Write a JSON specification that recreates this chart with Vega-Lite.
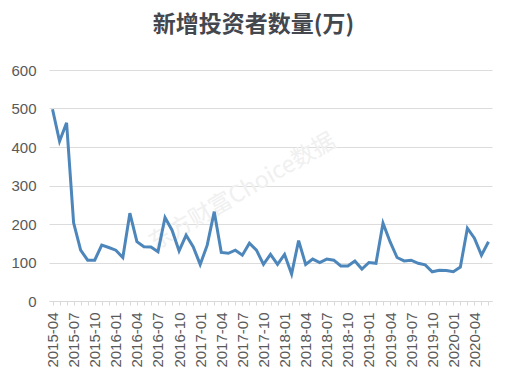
{
  "$schema": "https://vega.github.io/schema/vega-lite/v6.json",
  "width": 443,
  "height": 231,
  "autosize": {"type": "none"},
  "padding": {"left": 49, "top": 70, "right": 14, "bottom": 78},
  "background": "white",
  "title": {
    "text": "新增投资者数量(万)",
    "font": "Noto Sans CJK SC",
    "fontSize": 23,
    "fontWeight": "bold",
    "color": "#44474d",
    "anchor": "middle",
    "dx": -17,
    "offset": 26
  },
  "config": {
    "view": {"stroke": null},
    "axis": {"labelFont": "Liberation Sans", "labelFontSize": 15, "labelColor": "#595959"}
  },
  "datasets": {
    "series": [
      {"month": "2015-04", "v": 498}, {"month": "2015-05", "v": 415}, {"month": "2015-06", "v": 463},
      {"month": "2015-07", "v": 203}, {"month": "2015-08", "v": 132}, {"month": "2015-09", "v": 106},
      {"month": "2015-10", "v": 106}, {"month": "2015-11", "v": 145}, {"month": "2015-12", "v": 139},
      {"month": "2016-01", "v": 132}, {"month": "2016-02", "v": 113}, {"month": "2016-03", "v": 228},
      {"month": "2016-04", "v": 154}, {"month": "2016-05", "v": 141}, {"month": "2016-06", "v": 140},
      {"month": "2016-07", "v": 128}, {"month": "2016-08", "v": 217}, {"month": "2016-09", "v": 184},
      {"month": "2016-10", "v": 130}, {"month": "2016-11", "v": 171}, {"month": "2016-12", "v": 141},
      {"month": "2017-01", "v": 95}, {"month": "2017-02", "v": 145}, {"month": "2017-03", "v": 232},
      {"month": "2017-04", "v": 126}, {"month": "2017-05", "v": 124}, {"month": "2017-06", "v": 132},
      {"month": "2017-07", "v": 119}, {"month": "2017-08", "v": 150}, {"month": "2017-09", "v": 132},
      {"month": "2017-10", "v": 95}, {"month": "2017-11", "v": 121}, {"month": "2017-12", "v": 95},
      {"month": "2018-01", "v": 121}, {"month": "2018-02", "v": 70}, {"month": "2018-03", "v": 157},
      {"month": "2018-04", "v": 95}, {"month": "2018-05", "v": 109}, {"month": "2018-06", "v": 100},
      {"month": "2018-07", "v": 109}, {"month": "2018-08", "v": 106}, {"month": "2018-09", "v": 91},
      {"month": "2018-10", "v": 91}, {"month": "2018-11", "v": 104}, {"month": "2018-12", "v": 83},
      {"month": "2019-01", "v": 100}, {"month": "2019-02", "v": 98}, {"month": "2019-03", "v": 202},
      {"month": "2019-04", "v": 154}, {"month": "2019-05", "v": 113}, {"month": "2019-06", "v": 104},
      {"month": "2019-07", "v": 106}, {"month": "2019-08", "v": 98}, {"month": "2019-09", "v": 94},
      {"month": "2019-10", "v": 76}, {"month": "2019-11", "v": 80}, {"month": "2019-12", "v": 79},
      {"month": "2020-01", "v": 76}, {"month": "2020-02", "v": 88}, {"month": "2020-03", "v": 189},
      {"month": "2020-04", "v": 163}, {"month": "2020-05", "v": 119}, {"month": "2020-06", "v": 154}
    ],
    "mark": [{"month": "2017-07", "v": 283, "label": "东方财富Choice数据"}]
  },
  "encoding": {
    "x": {
      "field": "month",
      "type": "ordinal",
      "sort": "ascending",
      "scale": {"type": "point", "padding": 0.5},
      "axis": {
        "title": null,
        "labelAngle": 270,
        "labelOverlap": false,
        "labelPadding": 7,
        "labelExpr": "test(/-(01|04|07|10)$/, datum.label) ? datum.label : ''",
        "tickSize": 4,
        "tickColor": "#d9d9d9",
        "domainColor": "#d9d9d9",
        "grid": false
      }
    },
    "y": {
      "field": "v",
      "type": "quantitative",
      "scale": {"domain": [0, 600], "nice": false},
      "axis": {
        "title": null,
        "values": [0, 100, 200, 300, 400, 500, 600],
        "ticks": false,
        "domain": false,
        "labelPadding": 13,
        "gridColor": "#dcdcdc",
        "gridWidth": 1
      }
    }
  },
  "layer": [
    {
      "data": {"name": "mark"},
      "mark": {"type": "text", "font": "Noto Sans CJK SC", "fontSize": 23, "angle": 330, "color": "#f0f0f0"},
      "encoding": {
        "text": {"field": "label"}
      }
    },
    {
      "data": {"name": "series"},
      "mark": {"type": "line", "color": "#4d86bb", "strokeWidth": 3, "strokeJoin": "miter"}
    }
  ]
}
